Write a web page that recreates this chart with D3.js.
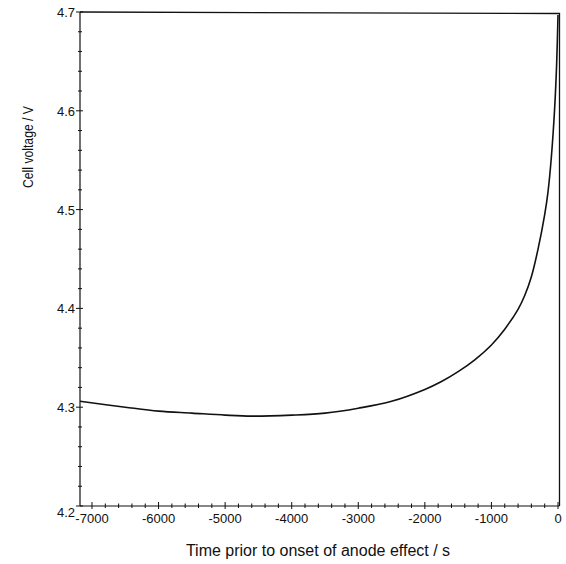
<!DOCTYPE html>
<html>
<head>
<meta charset="utf-8">
<script src="https://cdn.jsdelivr.net/npm/d3@7"></script>
<style>
  body { margin: 0; background: #fff; }
  text { font-family: "Liberation Sans", Arial, sans-serif; fill: #111; }
</style>
</head>
<body>
<div id="chart"></div>
<script>
// values
var time = [-7180, -6500, -6000, -5500, -5000, -4600, -4000, -3500, -3000, -2500,
            -2000, -1750, -1500, -1250, -1000, -800, -600, -500, -400, -300,
            -200, -150, -100, -50, -20, 0];
var voltage = [4.306, 4.300, 4.296, 4.294, 4.292, 4.291, 4.292, 4.294, 4.299, 4.306,
               4.318, 4.326, 4.336, 4.348, 4.363, 4.379, 4.399, 4.413, 4.432, 4.460,
               4.495, 4.518, 4.553, 4.603, 4.648, 4.697];
var xTicks = [-7000, -6000, -5000, -4000, -3000, -2000, -1000, 0];
var yTicks = [4.2, 4.3, 4.4, 4.5, 4.6, 4.7];

var margin = {top: 12, right: 8, bottom: 58, left: 80},
    width = 566 - margin.left - margin.right,
    height = 564 - margin.top - margin.bottom;

var svg = d3.select("#chart")
  .append("svg")
    .attr("width", 566)
    .attr("height", 564)
  .append("g")
    .attr("transform", "translate(" + margin.left + "," + margin.top + ")");

var x = d3.scaleLinear().domain([-7180, 0]).range([0, 478]);
var y = d3.scaleLinear().domain([4.2, 4.7]).range([height, 0]);

var data = time.map(function(t, i) { return {t: t, v: voltage[i]}; });

// frame top and right
svg.append("path")
  .attr("fill", "none")
  .attr("stroke", "#111")
  .attr("stroke-width", 1.3)
  .attr("d", "M0," + y(4.7) + "L" + (x(0) + 1.5) + "," + (y(4.7) + 1.5) + "L" + (x(0) + 1.5) + "," + height);

// x axis with minor ticks
var xMinor = d3.range(-7000, 1, 200);
svg.append("line")
  .attr("x1", 0).attr("x2", x(0) + 1.5)
  .attr("y1", height).attr("y2", height)
  .attr("stroke", "#111").attr("stroke-width", 1.2);
svg.selectAll(".xminor").data(xMinor).enter().append("line")
  .attr("x1", function(d) { return x(d); }).attr("x2", function(d) { return x(d); })
  .attr("y1", function(d) { return height - (d % 1000 === 0 ? 4 : 2.5); })
  .attr("y2", function(d) { return height + (d % 1000 === 0 ? 3 : 2); })
  .attr("stroke", "#111").attr("stroke-width", 1);
svg.selectAll(".xlab").data(xTicks).enter().append("text")
  .attr("x", function(d) { return x(d); })
  .attr("y", height + 17)
  .attr("text-anchor", "middle")
  .attr("font-size", 13)
  .text(function(d) { return d; });

// y axis with minor ticks
var yMinor = d3.range(0, 26).map(function(i) { return 4.2 + i * 0.02; });
svg.append("line")
  .attr("x1", 0).attr("x2", 0)
  .attr("y1", 0).attr("y2", height)
  .attr("stroke", "#111").attr("stroke-width", 1.2);
svg.selectAll(".yminor").data(yMinor).enter().append("line")
  .attr("y1", function(d) { return y(d); }).attr("y2", function(d) { return y(d); })
  .attr("x1", function(d, i) { return i % 5 === 0 ? -4 : -2; })
  .attr("x2", function(d, i) { return i % 5 === 0 ? 3 : 2; })
  .attr("stroke", "#111").attr("stroke-width", 1);
svg.selectAll(".ylab").data(yTicks).enter().append("text")
  .attr("x", -5)
  .attr("y", function(d) { return y(d) + (d === 4.2 ? 11 : 5); })
  .attr("text-anchor", "end")
  .attr("font-size", 13)
  .text(function(d) { return d.toFixed(1); });

// the curve
svg.append("path")
  .datum(data)
  .attr("fill", "none")
  .attr("stroke", "#111")
  .attr("stroke-width", 1.6)
  .attr("d", d3.line()
    .x(function(d) { return x(d.t); })
    .y(function(d) { return y(d.v); })
    .curve(d3.curveCatmullRom.alpha(0.5)));

// axis titles
svg.append("text")
  .attr("x", 238)
  .attr("y", height + 50)
  .attr("text-anchor", "middle")
  .attr("font-size", 16)
  .text("Time prior to onset of anode effect / s");

svg.append("text")
  .attr("transform", "translate(-47," + 135 + ") rotate(-90)")
  .attr("text-anchor", "middle")
  .attr("font-size", 14.5)
  .attr("textLength", 82)
  .attr("lengthAdjust", "spacingAndGlyphs")
  .text("Cell voltage / V");
</script>
</body>
</html>
